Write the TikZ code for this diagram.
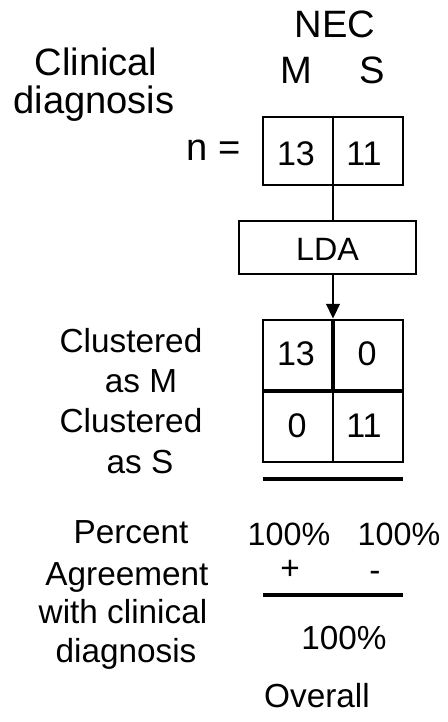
\documentclass[tikz,border=0pt]{standalone}
\usepackage{fontspec}
\setmainfont{Liberation Sans}
\usetikzlibrary{arrows.meta}
\begin{document}
\begin{tikzpicture}[x=0.75pt,y=-0.75pt,
  big/.style={anchor=base,inner sep=0pt,font=\fontsize{28.6}{34}\selectfont},
  mid/.style={anchor=base,inner sep=0pt,font=\fontsize{25}{30}\selectfont},
  num/.style={anchor=base,inner sep=0pt,font=\fontsize{25.6}{30}\selectfont},
  pct/.style={anchor=base,inner sep=0pt,font=\fontsize{24.2}{29}\selectfont},
  box/.style={draw,line width=2.1pt,inner sep=0pt},
  rule/.style={line width=2.3pt},
  thick line/.style={line width=3.4pt}]
\useasboundingbox (0,0) rectangle (448,722);
% header
\node[big] (nec) at (335,37) {NEC};
\node[big] (hm) at (296,83) {M};
\node[big] (hs) at (372,83) {S};
\node[big] (cl1) at (96,75) {Clinical};
\node[big] (cl2) at (94,113) {diagnosis};
\node[big] (neq) at (214,160) {n =};
% top box
\node[box,minimum width=105pt,minimum height=51pt] (tb) at (333,151) {};
\draw[line width=2.1pt] (tb.north) -- (tb.south);
\node[num] (n1) at (296,165) {13};
\node[num] (n2) at (364,165) {11};
% LDA
\node[box,minimum width=132.75pt,minimum height=39.75pt] (lda) at (327.5,247.5) {};
\node[pct] (ldat) at (327.5,260) {LDA};
\draw[line width=2.1pt] (tb.south) -- (tb.south |- lda.north);
% grid
\node[box,minimum width=105pt,minimum height=106.5pt] (grid) at (333,391) {};
\draw[-{Triangle[length=11pt,width=10pt]},line width=2.1pt] (lda.south -| tb.south) -- (grid.north);
\draw[thick line] (grid.west) -- (grid.east);
\draw[thick line] (grid.north) -- (grid.center);
\draw[line width=2.1pt] (grid.center) -- (grid.south);
\node[num] (g11) at (296,365) {13};
\node[num] (g12) at (367,365) {0};
\node[num] (g21) at (297,437) {0};
\node[num] (g22) at (364,437) {11};
\node[mid] (c1) at (131,352) {Clustered};
\node[mid] (c2) at (141,392) {as M};
\node[mid] (c3) at (131,432) {Clustered};
\node[mid] (c4) at (140,473) {as S};
\draw[rule] (263,479) -- (403,479);
% percentages
\node[mid] (p1) at (131,543) {Percent};
\node[mid] (p2) at (127,585) {Agreement};
\node[mid] (p3) at (123,623) {with clinical};
\node[mid] (p4) at (126,662) {diagnosis};
\node[pct] (pm) at (289,545) {100\%};
\node[pct] (ps) at (399,545) {100\%};
\node[mid] (plus) at (290,579) {+};
\node[mid] (minus) at (375,581) {-};
\draw[rule] (263,595) -- (403,595);
\node[mid] (ov) at (344,649) {100\%};
\node[mid] (ovl) at (317,707) {Overall};
\end{tikzpicture}
\end{document}
